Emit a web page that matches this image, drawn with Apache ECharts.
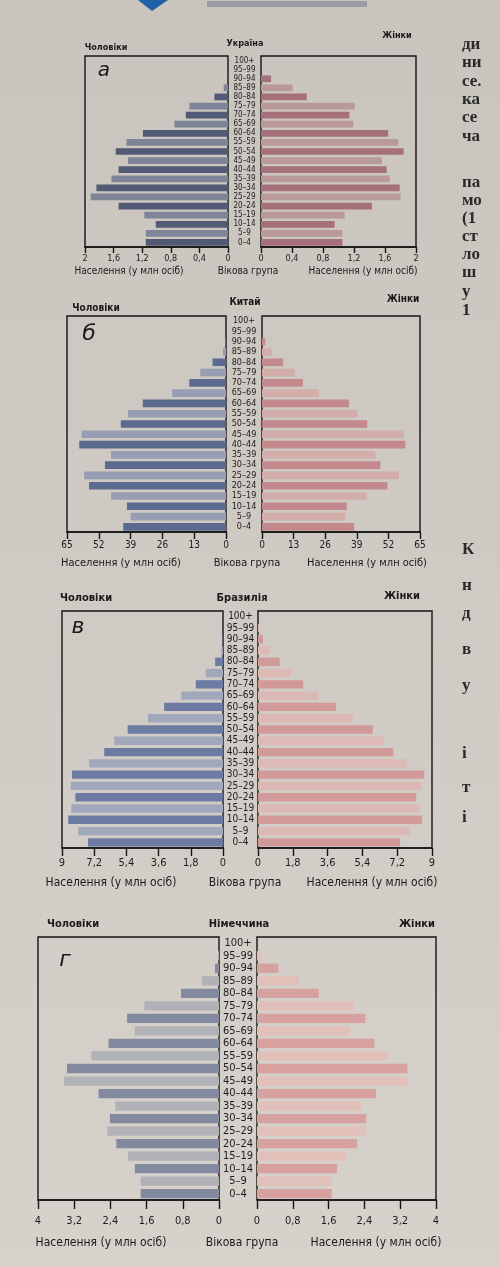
<!DOCTYPE html>
<html>
<head>
<meta charset="utf-8">
<script src="https://cdn.jsdelivr.net/npm/echarts@6/dist/echarts.min.js"></script>
</head>
<body style="margin:0">
<div id="container" style="width:500px;height:1267px"></div>
<script type="text/javascript">
// вікові групи, знизу вгору
var ages = ['0–4', '5–9', '10–14', '15–19', '20–24', '25–29', '30–34', '35–39', '40–44', '45–49',
  '50–54', '55–59', '60–64', '65–69', '70–74', '75–79', '80–84', '85–89', '90–94', '95–99', '100+'];

// населення, млн осіб
var ukraineMale = [1.15, 1.15, 1.01, 1.17, 1.53, 1.92, 1.84, 1.63, 1.53, 1.40, 1.57, 1.42, 1.19, 0.75, 0.59, 0.54, 0.19, 0.06, 0.01, 0, 0];
var ukraineFemale = [1.05, 1.05, 0.95, 1.08, 1.43, 1.80, 1.79, 1.66, 1.62, 1.56, 1.84, 1.77, 1.64, 1.19, 1.14, 1.21, 0.59, 0.41, 0.13, 0, 0];
var chinaMale = [42, 39, 40.5, 47, 56, 58, 49.5, 47, 60, 59, 43, 40, 34, 22, 15, 10.5, 5.5, 1.3, 0.4, 0, 0];
var chinaFemale = [37.9, 34.2, 34.9, 42.9, 51.6, 56.3, 48.7, 46.6, 59, 58.3, 43.3, 39.3, 35.8, 23.5, 16.8, 13.4, 8.7, 4, 1.3, 0, 0];
var brazilMale = [7.55, 8.09, 8.65, 8.48, 8.25, 8.51, 8.44, 7.48, 6.64, 6.08, 5.33, 4.2, 3.29, 2.33, 1.52, 0.96, 0.44, 0.1, 0.03, 0, 0];
var brazilFemale = [7.35, 7.84, 8.48, 8.36, 8.18, 8.48, 8.6, 7.73, 7.0, 6.52, 5.93, 4.9, 4.03, 3.11, 2.34, 1.7, 1.12, 0.6, 0.26, 0.05, 0];
var germanyMale = [1.73, 1.73, 1.86, 2.01, 2.27, 2.47, 2.41, 2.29, 2.66, 3.43, 3.36, 2.82, 2.44, 1.86, 2.03, 1.65, 0.84, 0.38, 0.09, 0.02, 0];
var germanyFemale = [1.67, 1.67, 1.79, 1.98, 2.24, 2.44, 2.44, 2.33, 2.66, 3.39, 3.36, 2.9, 2.62, 2.07, 2.42, 2.18, 1.38, 0.94, 0.48, 0.1, 0];

// шкали осей
var axisMax = [2, 65, 9, 4];
var axisStep = [0.4, 13, 1.8, 0.8];
var countries = ['Україна', 'Китай', 'Бразилія', 'Німеччина'];
var letters = ['а', 'б', 'в', 'г'];

var FONT = '"DejaVu Sans Condensed", "Liberation Sans Narrow", sans-serif';

// розміщення панелей (px)
var layout = [
  {top: 56, bottom: 247, l: [85, 228], r: [261, 416], fs: 8, tick: 9, tm: 7, tl: 6, name: 10, title: [48, 44, 36], tx: [106, 245, 397], letter: [104, 71, 20], nameY: 271, nx: [129, 248, 363]},
  {top: 316, bottom: 532, l: [67, 226], r: [262, 420], fs: 9, tick: 10, tm: 8, tl: 7, name: 11, title: [308, 302, 299], tx: [96, 245, 403], letter: [89, 334, 22], nameY: 563, nx: [121, 247, 367]},
  {top: 611, bottom: 848, l: [62, 223], r: [258, 432], fs: 10, tick: 11, tm: 10, tl: 8, name: 12, title: [598, 598, 596], tx: [86, 242, 402], letter: [78, 627, 22], nameY: 883, nx: [111, 245, 372]},
  {top: 937, bottom: 1200, l: [38, 219], r: [257, 436], fs: 11, tick: 11, tm: 16, tl: 9, name: 12, title: [924, 924, 924], tx: [73, 239, 417], letter: [65, 960, 22], nameY: 1243, nx: [101, 242, 376]}
];

var palette = [
  {m: ['#525a75', '#7f8598'], f: ['#a6707a', '#ba9a99']},
  {m: ['#5d6a90', '#979db2'], f: ['#c4898d', '#d3ada9']},
  {m: ['#6d7ba2', '#a2a8bc'], f: ['#d29999', '#ddb9b5']},
  {m: ['#838a9f', '#b1b2b8'], f: ['#d7a19f', '#e2c0ba']}
];

var males = [ukraineMale, chinaMale, brazilMale, germanyMale];
var females = [ukraineFemale, chinaFemale, brazilFemale, germanyFemale];

var grids = [], xAxes = [], yAxes = [], series = [], graphics = [];

function fmt(v) {
  return String(Math.round(v * 10) / 10).replace('.', ',');
}

for (var i = 0; i < 4; i++) {
  var L = layout[i];
  var h = L.bottom - L.top;
  [0, 1].forEach(function (side) {
    var ext = side === 0 ? L.l : L.r;
    var gi = grids.length;
    grids.push({
      left: ext[0], top: L.top, width: ext[1] - ext[0], height: h,
      show: true, borderColor: '#151515', borderWidth: 1.4
    });
    xAxes.push({
      gridIndex: gi, type: 'value', inverse: side === 0,
      min: 0, max: axisMax[i], interval: axisStep[i],
      axisLine: {show: true, lineStyle: {color: '#151515', width: 1.6}},
      axisTick: {show: true, length: L.tl, lineStyle: {color: '#151515', width: 1.4}},
      axisLabel: {show: true, color: '#1c1c1c', fontFamily: FONT, fontSize: L.tick, margin: L.tm,
        showMinLabel: true, showMaxLabel: true, formatter: fmt},
      splitLine: {show: false}
    });
    yAxes.push({
      gridIndex: gi, type: 'category', data: ages,
      position: side === 0 ? 'right' : 'left',
      axisLine: {show: false}, axisTick: {show: false},
      axisLabel: side === 0 ? {
        show: true, interval: 0, align: 'center', margin: (L.r[0] - L.l[1]) / 2,
        color: '#1c1c1c', fontFamily: FONT, fontSize: L.fs, lineHeight: L.fs
      } : {show: false}
    });
    var cols = side === 0 ? palette[i].m : palette[i].f;
    series.push({
      type: 'bar', xAxisIndex: gi, yAxisIndex: gi, silent: true,
      data: side === 0 ? males[i] : females[i],
      barCategoryGap: '26%',
      itemStyle: {color: function (p) { return cols[p.dataIndex % 2]; }}
    });
  });

  var titleStyle = {fontFamily: FONT, fill: '#1a1a1a', align: 'center', verticalAlign: 'middle'};
  graphics.push({type: 'text', x: L.tx[0], y: L.title[0],
    style: Object.assign({text: 'Чоловіки', fontSize: L.name - 1, fontWeight: 'bold'}, titleStyle)});
  graphics.push({type: 'text', x: L.tx[1], y: L.title[1],
    style: Object.assign({text: countries[i], fontSize: L.name - 1, fontWeight: 'bold'}, titleStyle)});
  graphics.push({type: 'text', x: L.tx[2], y: L.title[2],
    style: Object.assign({text: 'Жінки', fontSize: L.name - 1, fontWeight: 'bold'}, titleStyle)});
  graphics.push({type: 'text', x: L.nx[0], y: L.nameY,
    style: Object.assign({text: 'Населення (у млн осіб)', fontSize: L.name}, titleStyle)});
  graphics.push({type: 'text', x: L.nx[1], y: L.nameY,
    style: Object.assign({text: 'Вікова група', fontSize: L.name}, titleStyle)});
  graphics.push({type: 'text', x: L.nx[2], y: L.nameY,
    style: Object.assign({text: 'Населення (у млн осіб)', fontSize: L.name}, titleStyle)});
  graphics.push({type: 'text', x: L.letter[0], y: L.letter[1],
    style: {text: letters[i], fontSize: L.letter[2], fontStyle: 'italic', fontFamily: 'DejaVu Sans, sans-serif',
      fill: '#1a1a1a', align: 'center', verticalAlign: 'middle'}});
}

// фрагменти тексту сторінки праворуч
var margin = [['ди', 45], ['ни', 63], ['се.', 82], ['ка', 100], ['се', 118], ['ча', 137],
  ['па', 183], ['мо', 201], ['(1', 219], ['ст', 237], ['ло', 255], ['ш', 273], ['у', 292], ['1', 311],
  ['К', 550], ['н', 586], ['д', 614], ['в', 650], ['у', 686], ['і', 754], ['т', 788], ['і', 818]];
margin.forEach(function (m) {
  graphics.push({type: 'text', x: 462, y: m[1], style: {text: m[0], fontSize: 17, fontWeight: 'bold',
    fontFamily: '"Liberation Serif", serif', fill: '#2a2a2a', verticalAlign: 'middle'}});
});
// декор сторінки вгорі
graphics.push({type: 'polygon', shape: {points: [[138, 0], [168, 0], [152, 11]]}, style: {fill: '#1f5fa8'}});
graphics.push({type: 'rect', shape: {x: 207, y: 1, width: 160, height: 6}, style: {fill: '#9a9ca2'}});

var myChart = echarts.init(document.getElementById('container'));
myChart.setOption({
  animation: false,
  backgroundColor: {type: 'linear', x: 0, y: 0, x2: 0, y2: 1,
    colorStops: [{offset: 0, color: '#c9c4bd'}, {offset: 1, color: '#d6d2cb'}]},
  grid: grids,
  xAxis: xAxes,
  yAxis: yAxes,
  series: series,
  graphic: graphics
});
</script>
</body>
</html>
